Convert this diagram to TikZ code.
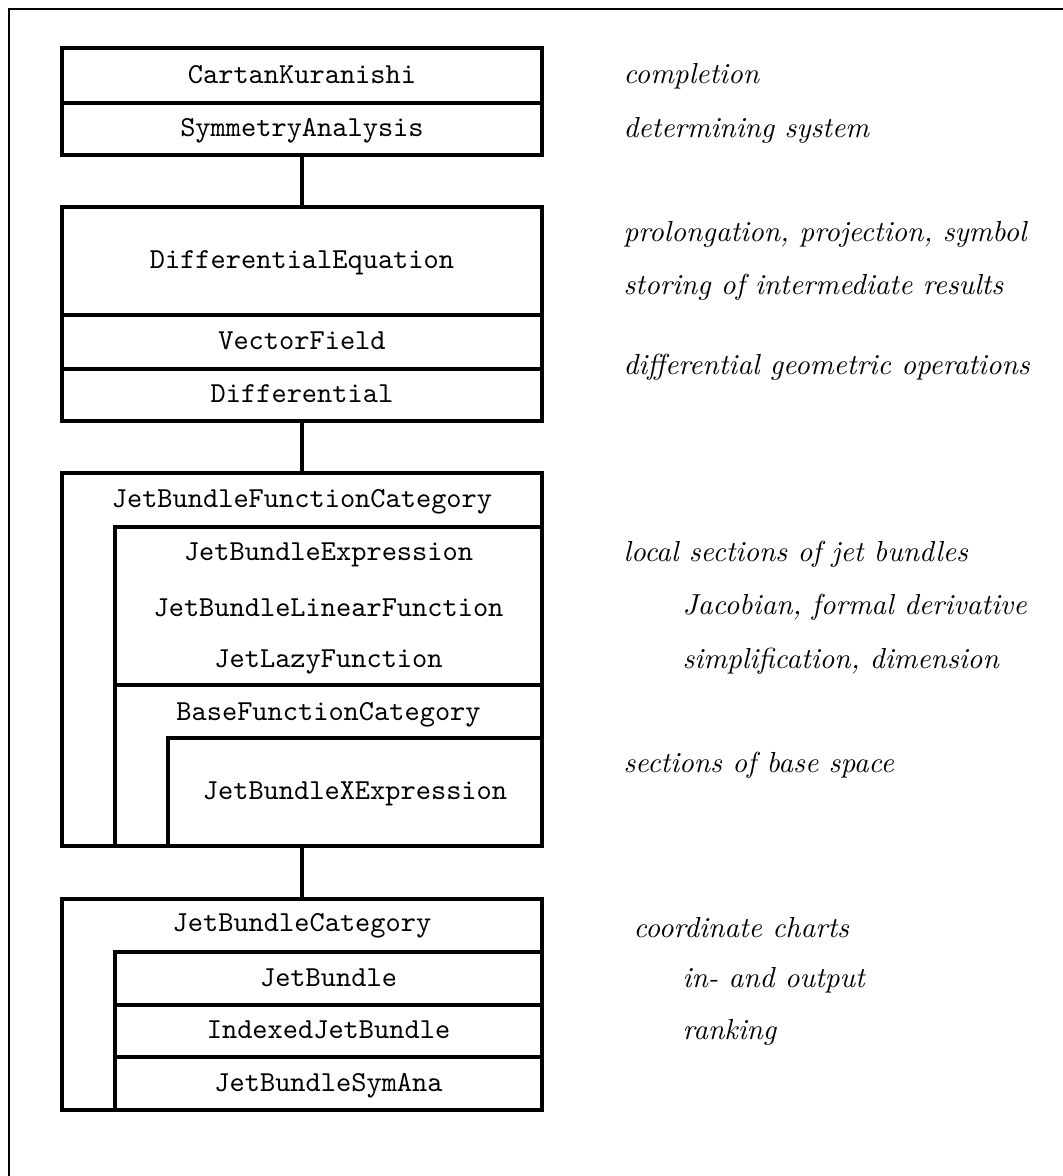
\documentclass[tikz,border=0pt]{standalone}
\usepackage{tikz}

\begin{document}
\begin{tikzpicture}[
    cls/.style={draw, line width=1.1pt, inner sep=0pt, font=\ttfamily, text height=6pt, text depth=0.8pt},
    note/.style={anchor=base west, inner sep=0pt, font=\itshape}]
    % page and frame
    \useasboundingbox (0,0) rectangle (12.894,-14.265);
    \coordinate (fbl) at (0.109,-14.4);
    \coordinate (ftl) at (0.109,-0.109);
    \coordinate (ftr) at (13.0,-0.109);
    \draw [line width=0.7pt] (fbl) -- (ftl) -- (ftr);

    % first block
    \node (ck) at (3.663,-0.916) [cls, minimum width=5.822cm, minimum height=0.667cm] {CartanKuranishi};
    \node (sa) at (3.663,-1.565) [cls, minimum width=5.822cm, minimum height=0.631cm] {SymmetryAnalysis};

    % second block
    \node (deq) at (3.663,-3.166) [cls, minimum width=5.822cm, minimum height=1.310cm] {DifferentialEquation};
    \node (vf) at (3.663,-4.148) [cls, minimum width=5.822cm, minimum height=0.655cm] {VectorField};
    \node (dif) at (3.663,-4.791) [cls, minimum width=5.822cm, minimum height=0.631cm] {Differential};

    % third block
    \node (jfc) at (3.663,-8.000) [cls, minimum width=5.822cm, minimum height=4.524cm] {};
    \node (jfct) at (3.663,-6.065) [cls, draw=none] {JetBundleFunctionCategory};
    \node (jbe) at (3.985,-7.351) [cls, minimum width=5.180cm, minimum height=1.917cm] {};
    \node (jbe1) at (3.985,-6.793) [anchor=base, inner sep=0pt, font=\ttfamily] {JetBundleExpression};
    \node (jbe2) at (3.985,-7.484) [anchor=base, inner sep=0pt, font=\ttfamily] {JetBundleLinearFunction};
    \node (jbe3) at (3.985,-8.091) [anchor=base, inner sep=0pt, font=\ttfamily] {JetLazyFunction};
    \node (bfc) at (3.985,-9.285) [cls, minimum width=5.180cm, minimum height=1.953cm] {};
    \node (bfct) at (3.985,-8.734) [anchor=base, inner sep=0pt, font=\ttfamily] {BaseFunctionCategory};
    \node (jbx) at (4.306,-9.607) [cls, minimum width=4.537cm, minimum height=1.310cm] {JetBundleXExpression};

    % fourth block
    \node (jbc) at (3.663,-12.185) [cls, minimum width=5.822cm, minimum height=2.559cm] {};
    \node (jbct) at (3.663,-11.305) [anchor=base, inner sep=0pt, font=\ttfamily] {JetBundleCategory};
    \node (jb) at (3.985,-11.869) [cls, minimum width=5.180cm, minimum height=0.643cm] {JetBundle};
    \node (ijb) at (3.985,-12.506) [cls, minimum width=5.180cm, minimum height=0.631cm] {IndexedJetBundle};
    \node (jbs) at (3.985,-13.143) [cls, minimum width=5.180cm, minimum height=0.643cm] {JetBundleSymAna};

    \draw [line width=1.1pt] (sa.south) -- (deq.north);
    \draw [line width=1.1pt] (dif.south) -- (jfc.north);
    \draw [line width=1.1pt] (jfc.south) -- (jbc.north);

    % comments on the right
    \node (n1) at (7.557,-1.007) [note] {completion};
    \node (n2) at (7.557,-1.662) [note] {determining system};
    \node (n3) at (7.557,-2.935) [note] {prolongation, projection, symbol};
    \node (n4) at (7.557,-3.578) [note] {storing of intermediate results};
    \node (n5) at (7.557,-4.537) [note] {differential geometric operations};
    \node (n6) at (7.557,-6.817) [note] {local sections of jet bundles};
    \node (n7) at (8.273,-7.448) [note] {Jacobian, formal derivative};
    \node (n8) at (8.273,-8.103) [note] {simplification, dimension};
    \node (n9) at (7.557,-9.376) [note] {sections of base space};
    \node (n10) at (7.678,-11.366) [note] {coordinate charts};
    \node (n11) at (8.273,-11.984) [note] {in- and output};
    \node (n12) at (8.273,-12.615) [note] {ranking};
\end{tikzpicture}
\end{document}
